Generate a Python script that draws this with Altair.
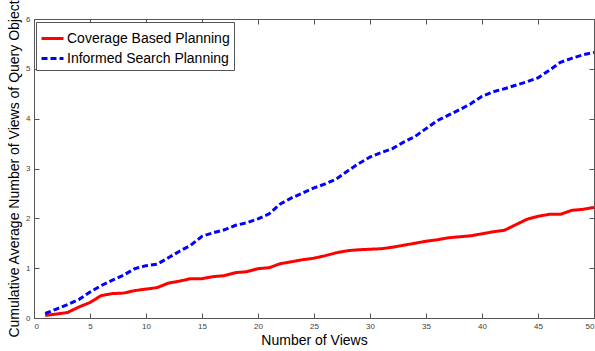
import altair as alt
import pandas as pd

# Cumulative average number of views of the query object after each view
views = list(range(1, 51))
coverage_based = [
    0.05, 0.08, 0.11, 0.22, 0.31, 0.45, 0.49, 0.50, 0.55, 0.58,
    0.61, 0.70, 0.74, 0.79, 0.79, 0.83, 0.85, 0.91, 0.93, 0.99,
    1.01, 1.09, 1.13, 1.17, 1.20, 1.25, 1.31, 1.35, 1.37, 1.38,
    1.39, 1.42, 1.46, 1.50, 1.54, 1.57, 1.61, 1.63, 1.65, 1.69,
    1.73, 1.76, 1.87, 1.98, 2.04, 2.08, 2.08, 2.16, 2.18, 2.22,
]
informed_search = [
    0.09, 0.18, 0.27, 0.37, 0.52, 0.65, 0.76, 0.86, 0.99, 1.05,
    1.08, 1.21, 1.34, 1.46, 1.64, 1.71, 1.77, 1.86, 1.91, 1.99,
    2.09, 2.29, 2.41, 2.51, 2.61, 2.69, 2.79, 2.95, 3.10, 3.23,
    3.32, 3.40, 3.53, 3.64, 3.80, 3.96, 4.07, 4.18, 4.30, 4.45,
    4.54, 4.60, 4.67, 4.74, 4.82, 4.97, 5.13, 5.21, 5.28, 5.33,
]
series_names = ["Coverage Based Planning", "Informed Search Planning"]
series_colors = ["#ff0000", "#0000ff"]
series_dashes = [[1, 0], [6, 3]]
x_ticks = [0, 5, 10, 15, 20, 25, 30, 35, 40, 45, 50]
y_ticks = [0, 1, 2, 3, 4, 5, 6]

df = pd.concat([
    pd.DataFrame({"views": views, "value": coverage_based, "method": series_names[0]}),
    pd.DataFrame({"views": views, "value": informed_search, "method": series_names[1]}),
])

W, H = 560, 299
FONT = "Liberation Sans"
AXIS_GREY = "#555555"

x_scale = alt.Scale(domain=[0, 50], nice=False, zero=False)
y_scale = alt.Scale(domain=[0, 6], nice=False)

base = alt.Chart(df)

# Main axes: labels and titles only (the frame comes from the view stroke)
lines = base.mark_line(strokeWidth=3, strokeCap="butt").encode(
    x=alt.X("views:Q", scale=x_scale,
            axis=alt.Axis(orient="bottom", values=x_ticks, ticks=False, domain=False,
                          grid=False, labelPadding=4, title="Number of Views",
                          titlePadding=3)),
    y=alt.Y("value:Q", scale=y_scale,
            axis=alt.Axis(orient="left", values=y_ticks, ticks=False, domain=False,
                          grid=False, labelPadding=4,
                          title="Cumulative Average Number of Views of Query Object",
                          titlePadding=4)),
    color=alt.Color("method:N", scale=alt.Scale(domain=series_names, range=series_colors),
                    title=None),
    strokeDash=alt.StrokeDash("method:N",
                              scale=alt.Scale(domain=series_names, range=series_dashes),
                              title=None),
)

# Inward tick marks on the bottom and left edges
ticks_bl = base.mark_point(opacity=0).encode(
    x=alt.X("views:Q", scale=x_scale,
            axis=alt.Axis(orient="top", offset=-H, values=x_ticks, labels=False,
                          domain=False, grid=False, tickSize=5, tickColor=AXIS_GREY,
                          title=None)),
    y=alt.Y("value:Q", scale=y_scale,
            axis=alt.Axis(orient="right", offset=-W, values=y_ticks, labels=False,
                          domain=False, grid=False, tickSize=5, tickColor=AXIS_GREY,
                          title=None)),
)

# Inward tick marks on the top and right edges
ticks_tr = base.mark_point(opacity=0).encode(
    x=alt.X("views:Q", scale=x_scale,
            axis=alt.Axis(orient="bottom", offset=-H, values=x_ticks, labels=False,
                          domain=False, grid=False, tickSize=5, tickColor=AXIS_GREY,
                          title=None)),
    y=alt.Y("value:Q", scale=y_scale,
            axis=alt.Axis(orient="left", offset=-W, values=y_ticks, labels=False,
                          domain=False, grid=False, tickSize=5, tickColor=AXIS_GREY,
                          title=None)),
)

chart = (
    alt.layer(lines, ticks_bl, ticks_tr)
    .resolve_axis(x="independent", y="independent")
    .properties(
        width=W,
        height=H,
        autosize=alt.AutoSizeParams(type="none"),
        padding={"left": 34, "top": 19, "right": 1, "bottom": 33},
        background="white",
    )
    .configure_view(stroke=AXIS_GREY, strokeWidth=1)
    .configure_axis(
        labelFont=FONT, labelFontSize=8, labelColor="#404040",
        titleFont=FONT, titleFontSize=14, titleFontWeight="normal", titleColor="black",
    )
    .configure_legend(
        orient="none", legendX=2, legendY=3,
        fillColor="white", strokeColor=AXIS_GREY, padding=4, cornerRadius=0,
        symbolType="stroke", symbolSize=484, symbolStrokeWidth=3,
        labelFont=FONT, labelFontSize=14, labelColor="black", labelOffset=2,
        labelLimit=0, rowPadding=0,
    )
)

chart.save("out.html", embed_options={"renderer": "svg", "actions": False})
